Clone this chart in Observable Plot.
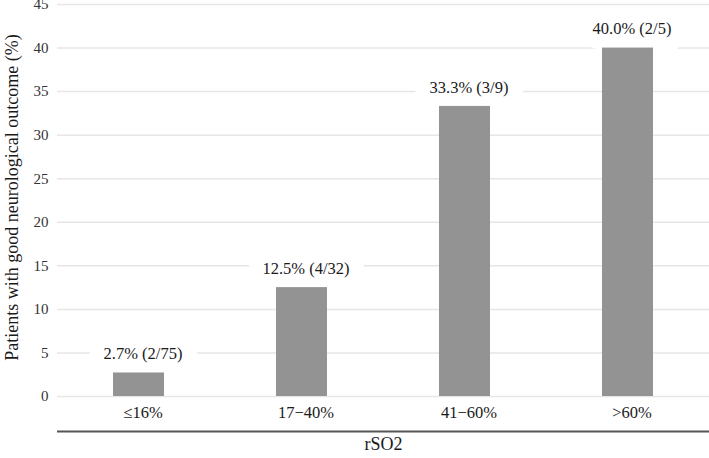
<!DOCTYPE html>
<html>
<head>
<meta charset="utf-8">
<script src="https://cdn.jsdelivr.net/npm/d3@7"></script>
<script src="https://cdn.jsdelivr.net/npm/@observablehq/plot@0.6"></script>
<style>
  html, body { margin: 0; padding: 0; background: #fff; font-family: "Liberation Serif", serif; }
  svg { display: block; }
</style>
</head>
<body>
<div id="chart"></div>
<script>
const categories = ["≤16%", "17−40%", "41−60%", ">60%"];
const values = [2.7, 12.5, 33.3, 40.0];
const labels = ["2.7% (2/75)", "12.5% (4/32)", "33.3% (3/9)", "40.0% (2/5)"];
const yTicks = [0, 5, 10, 15, 20, 25, 30, 35, 40, 45];

const data = categories.map((c, i) => ({cat: c, value: values[i], label: labels[i]}));
const serif = "Liberation Serif";
const labelOpts = {x: "cat", y: "value", text: "label", dx: 4, dy: -19, fontSize: 16.5, fontFamily: serif};

const chart = Plot.plot({
  width: 709,
  height: 458,
  marginTop: 4,
  marginBottom: 62,
  marginLeft: 57,
  marginRight: 0,
  style: {fontFamily: serif, fontSize: "16px", color: "#222", background: "#fff"},
  x: {domain: categories, paddingInner: 0.69, paddingOuter: 0.345, align: 0.5, label: null},
  y: {domain: [0, 45], label: null},
  marks: [
    Plot.gridY(yTicks, {stroke: "#e6e6e6", strokeOpacity: 1, strokeWidth: 1.5}),
    // white backing behind value labels (interrupts gridlines)
    Plot.text(data, {...labelOpts, fill: "white", stroke: "white", strokeWidth: 30, strokeLinejoin: "round"}),
    Plot.barY(data, {x: "cat", y: "value", fill: "#939393"}),
    Plot.text(data, {...labelOpts, fill: "#1a1a1a"}),
    Plot.axisY(yTicks, {
      tickSize: 0, tickPadding: 9, fontSize: 15, fontFamily: serif, fill: "#333",
      label: null
    }),
    Plot.axisX({
      tickSize: 0, tickPadding: 10, dx: 4, fontSize: 16.5, fontFamily: serif, fill: "#1a1a1a",
      label: null
    }),
    Plot.ruleY([0], {dy: 35, stroke: "#555", strokeWidth: 2}),
    Plot.text(["Patients with good neurological outcome (%)"], {
      frameAnchor: "left", rotate: -90, textAnchor: "middle", dx: -45, dy: -3,
      fontSize: 18, fontFamily: serif, fill: "#1a1a1a"
    }),
    Plot.text(["rSO2"], {
      frameAnchor: "bottom", dy: 53, fontSize: 18, fontFamily: serif, fill: "#1a1a1a"
    })
  ]
});

document.getElementById("chart").appendChild(chart);
</script>
</body>
</html>
